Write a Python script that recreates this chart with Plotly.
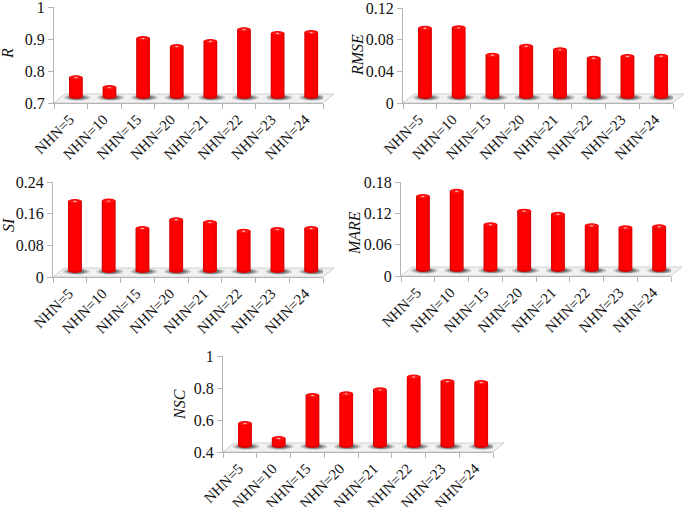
import plotly.graph_objects as go

W = 685
H = 507

categories = ["NHN=5", "NHN=10", "NHN=15", "NHN=20", "NHN=21", "NHN=22", "NHN=23", "NHN=24"]

r_values = [0.787, 0.756, 0.909, 0.884, 0.900, 0.937, 0.925, 0.928]
rmse_values = [0.0976, 0.0981, 0.0635, 0.0749, 0.0703, 0.0597, 0.0619, 0.0622]
si_values = [0.197, 0.198, 0.129, 0.151, 0.144, 0.122, 0.126, 0.129]
mare_values = [0.157, 0.167, 0.103, 0.129, 0.123, 0.101, 0.097, 0.099]
nsc_values = [0.594, 0.500, 0.768, 0.779, 0.804, 0.885, 0.856, 0.850]

r_ticks = ["0.7", "0.8", "0.9", "1"]
rmse_ticks = ["0", "0.04", "0.08", "0.12"]
si_ticks = ["0", "0.08", "0.16", "0.24"]
mare_ticks = ["0", "0.06", "0.12", "0.18"]
nsc_ticks = ["0.4", "0.6", "0.8", "1"]

# name, values, tick labels, left, right, top, bottom (px), title x, title y
panels = [
    ("R", r_values, r_ticks, 54, 323, 7, 103, 8, 53),
    ("RMSE", rmse_values, rmse_ticks, 403, 673, 8, 103, 357, 55),
    ("SI", si_values, si_ticks, 53, 323, 182, 277, 8, 225),
    ("MARE", mare_values, mare_ticks, 401, 671, 182, 276, 354, 233),
    ("NSC", nsc_values, nsc_ticks, 223, 493, 356, 452, 179, 405),
]

font = "Liberation Serif"
axis_grey = "#b4b4b4"
bar_layers = [(1.0, "#d40000"), (0.92, "#e80000"), (0.8, "#f80000"), (0.62, "#ff0000")]
half_width = 0.205
shift = 0.15

fig = go.Figure()
shapes = []
annotations = []

for i, (name, values, ticks, left, right, top, bottom, tx, ty) in enumerate(panels):
    suffix = "" if i == 0 else str(i + 1)
    tick_nums = [float(t) for t in ticks]
    y_min, y_max = tick_nums[0], tick_nums[-1]
    per_px = (y_max - y_min) / (bottom - top)
    xa = "x" + suffix
    ya = "y" + suffix

    fig.layout["xaxis" + suffix] = dict(
        domain=[left / W, right / W], anchor=ya, type="category", range=[-0.5, 7.5],
        tickson="boundaries", ticks="outside", ticklen=5, tickcolor=axis_grey, showgrid=False,
        showline=True, linecolor=axis_grey, tickangle=-45, zeroline=False,
        ticklabelstandoff=1, ticklabelshift=-1,
        ticklabeloverflow="allow", tickfont=dict(family=font, size=15, color="#111111"),
    )
    fig.layout["yaxis" + suffix] = dict(
        domain=[1 - bottom / H, 1 - top / H], anchor=xa, range=[y_min, y_max],
        tickvals=tick_nums, ticktext=ticks, ticks="outside", ticklen=5, tickcolor=axis_grey,
        showgrid=False, showline=True, linecolor=axis_grey, zeroline=False,
        ticklabeloverflow="allow", tickfont=dict(family=font, size=16, color="#111111"),
    )

    # floor of the 3D box
    depth_x = 11 / (right - left)
    depth_y = 9 / (bottom - top)
    shapes.append(dict(
        type="path", xref=xa + " domain", yref=ya + " domain", layer="below",
        path=f"M 0 0 L 1 0 L {1 + depth_x} {depth_y} L {depth_x} {depth_y} Z",
        fillcolor="#f1f1f1", line=dict(color="#cfcfcf", width=1),
    ))

    base = y_min + 6.5 * per_px
    for j, v in enumerate(values):
        c = j + shift
        # shadow on the floor
        for grow, colour in [(1.0, "#cccccc"), (0.82, "#a0a0a0"), (0.62, "#747474")]:
            shapes.append(dict(
                type="circle", xref=xa, yref=ya, layer="below",
                x0=c + 0.04 - 0.4 * grow, x1=c + 0.04 + 0.4 * grow,
                y0=y_min + (5.5 - 3.2 * grow) * per_px, y1=y_min + (5.5 + 3.2 * grow) * per_px,
                fillcolor=colour, line_width=0,
            ))
        # rounded foot and top of the cylinder
        shapes.append(dict(
            type="circle", xref=xa, yref=ya, layer="below",
            x0=c - half_width, x1=c + half_width, y0=base - 2.5 * per_px, y1=base + 2.5 * per_px,
            fillcolor="#dc0000", line_width=0,
        ))
        shapes.append(dict(
            type="circle", xref=xa, yref=ya,
            x0=c - half_width, x1=c + half_width, y0=v - 5 * per_px, y1=v,
            fillcolor="#ee0000", line_width=0,
        ))
        shapes.append(dict(
            type="circle", xref=xa, yref=ya,
            x0=c - 0.16, x1=c + 0.16, y0=v - 4.4 * per_px, y1=v - 0.8 * per_px,
            fillcolor="#ff1414", line_width=0,
        ))
        shapes.append(dict(
            type="circle", xref=xa, yref=ya,
            x0=c - 0.05, x1=c + 0.05, y0=v - 3.2 * per_px, y1=v - 1.8 * per_px,
            fillcolor="#ffb4b4", line_width=0,
        ))

    for frac, colour in bar_layers:
        w = half_width * frac
        fig.add_trace(go.Bar(
            x=categories, y=[v - 2.5 * per_px - base for v in values], base=base,
            width=2 * w, offset=shift - w, marker=dict(color=colour, line_width=0),
            xaxis=xa, yaxis=ya, showlegend=False,
        ))

    annotations.append(dict(
        text="<i>" + name + "</i>", x=tx / W, y=1 - ty / H, xref="paper", yref="paper",
        xanchor="center", yanchor="middle", showarrow=False, textangle=-90,
        font=dict(family=font, size=16, color="#111111"),
    ))

fig.update_layout(
    width=W, height=H, margin=dict(l=0, r=0, t=0, b=0, autoexpand=False), autosize=False,
    barmode="overlay", plot_bgcolor="white", paper_bgcolor="white",
    shapes=shapes, annotations=annotations, showlegend=False,
)

# the page body would otherwise add its own 8px margin
fig.write_html("out.html", config=dict(displayModeBar=False),
               post_script="document.body.style.margin='0';")
